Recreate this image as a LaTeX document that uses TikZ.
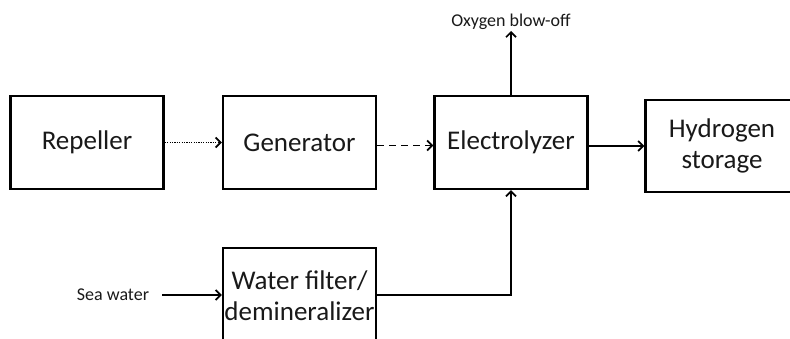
\documentclass[tikz,border=0pt]{standalone}
\usepackage{fontspec}
\setmainfont{Carlito}
\usepackage{tikz}
\usetikzlibrary{arrows.meta,positioning,calc}
\definecolor{mytext}{RGB}{25,25,25}
\tikzset{
  blockbox/.style={draw=black, line width=2.4pt, fill=white, text=mytext,
                   font=\fontsize{27}{31}\selectfont, align=center,
                   minimum width=153pt, minimum height=93pt, inner sep=0pt},
  flow/.style={line width=1.7pt, -{Straight Barb[length=5pt,width=10pt,line width=1.7pt]}},
  smalllabel/.style={text=mytext, font=\fontsize{18}{21}\selectfont, inner sep=1pt}
}

\begin{document}
\begin{tikzpicture}[x=1pt, y=-1pt]
  \clip (0,0) rectangle (790,338);
  % Top row
  \node[blockbox] (rep)  at (87, 142.5) {Repeller};
  \node[blockbox] (gen)  at (299.5, 142.5) {Generator};
  \node[blockbox] (elec) at (511, 142.5) {Electrolyzer};
  \node[blockbox, minimum height=92pt] (hyd) at (722, 146) {Hydrogen\\storage};
  % Bottom row
  \node[blockbox, minimum height=96pt] (filt) at (299.5, 296)
    {Water filter/\\demineralizer};
  \node[smalllabel] (sea) at (113, 295) {Sea water};
  \node[smalllabel] (oxy) at (511, 22) {Oxygen blow-off};
  % Connectors
  \draw[flow, dash pattern=on 1.3pt off 1.1pt] (rep) -- (gen);
  \draw[flow, dash pattern=on 7pt off 5pt] ($(gen.east)+(0,3)$) -- ($(elec.west)+(0,3)$);
  \draw[flow] ($(elec.east)+(0,3.5)$) -- (hyd.west |- {$(elec.east)+(0,3.5)$});
  \draw[flow] (elec) -- (oxy);
  \draw[flow, shorten <=12pt] (sea) -- (filt.west |- sea);
  \draw[flow] (filt.east |- sea) -| (elec.south);
\end{tikzpicture}
\end{document}
